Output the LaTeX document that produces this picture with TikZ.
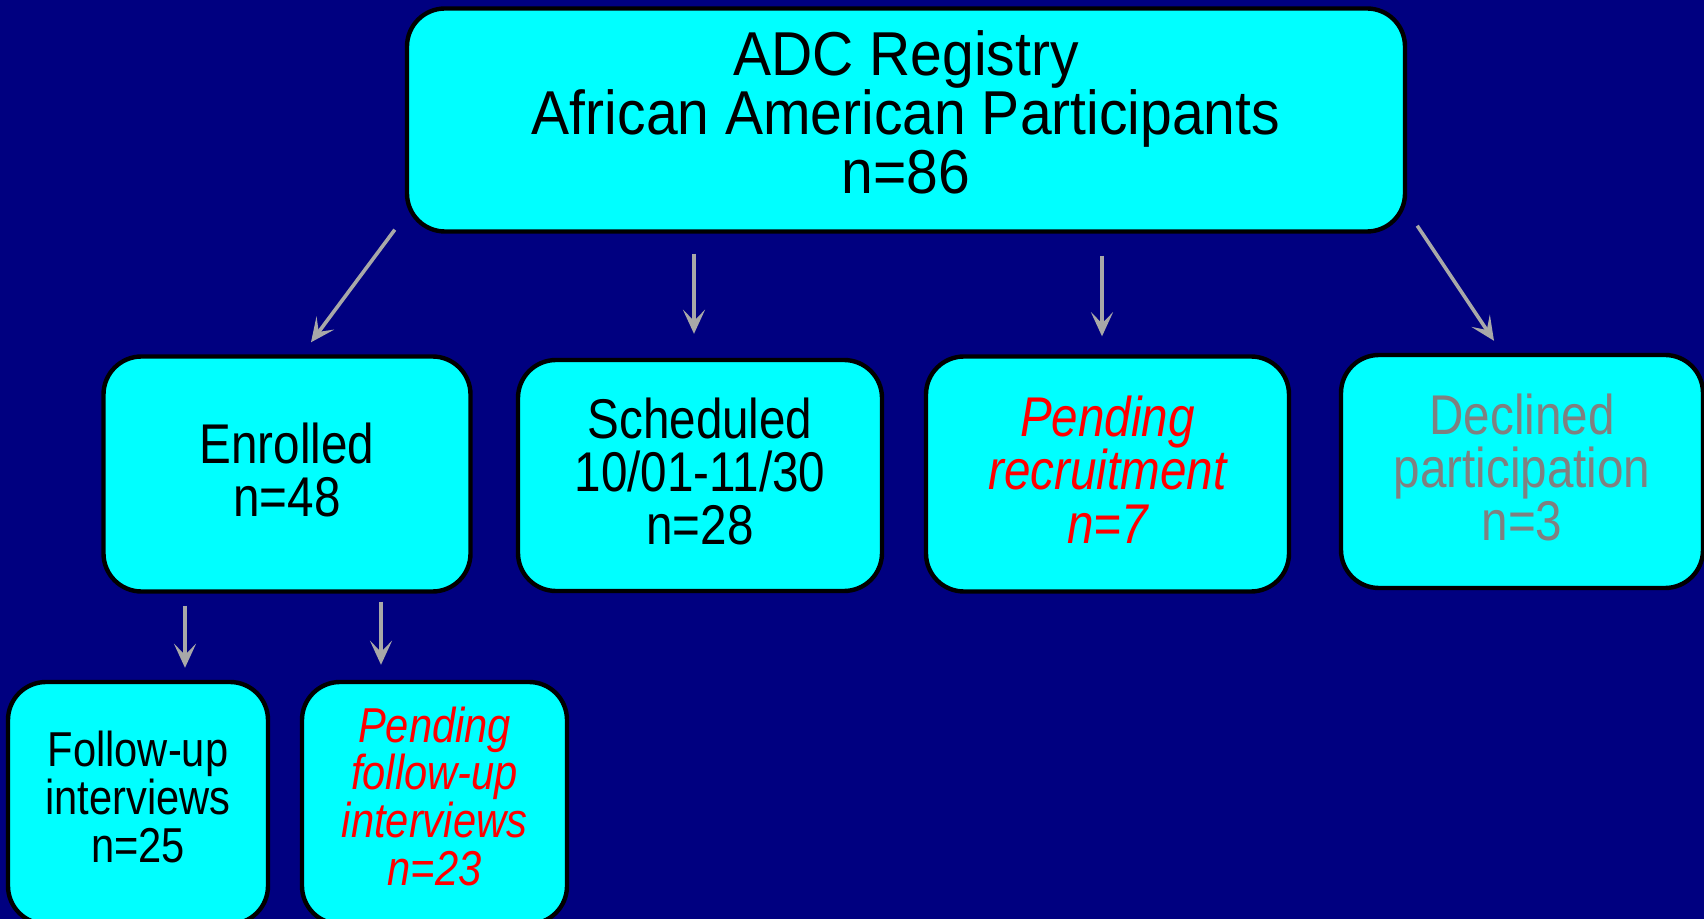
\documentclass[tikz,border=0pt]{standalone}
\usepackage{fontspec}
\setmainfont[FakeStretch=0.85]{Liberation Sans}
\newfontfamily\topfont[FakeStretch=0.92]{Liberation Sans}
\usepackage{tikz}
\usetikzlibrary{arrows.meta}
\definecolor{navybg}{RGB}{0,0,128}
\definecolor{boxcyan}{RGB}{0,255,255}
\definecolor{arrowgray}{RGB}{168,168,168}
\definecolor{declgray}{RGB}{128,128,128}
\tikzset{
  box/.style={draw=black,line width=2.2pt,fill=boxcyan,rounded corners=19pt,
    align=center,inner sep=0pt},
  arr/.style={draw=arrowgray,line width=1.8pt,
    -{Stealth[length=12pt,width=11pt,inset=5.5pt]}},
  bigtxt/.style={font=\topfont\fontsize{31}{29.5}\selectfont,text depth=7.6pt},
  midtxt/.style={font=\fontsize{28}{26.6}\selectfont,text depth=4.4pt},
  lowtxt/.style={font=\fontsize{24.5}{23.8}\selectfont,text depth=6.2pt},
  pendtxt/.style={text=red,font=\fontsize{28}{26.6}\selectfont\itshape,text depth=4.4pt},
}

\begin{document}
\begin{tikzpicture}[x=0.5pt,y=-0.5pt]
  \useasboundingbox[fill=navybg] (0,0) rectangle (1704,919);
  % top box
  \node[box,bigtxt,minimum width=499pt,minimum height=111.5pt] (reg) at (906,120)
    {ADC Registry\\African American Participants\\n=86};
  % second row
  \node[box,midtxt,minimum width=183.5pt,minimum height=117.5pt] (enr) at (287,474)
    {Enrolled\\n=48};
  \node[box,midtxt,minimum width=182pt,minimum height=115.5pt] (sched) at (700,475.5)
    {Scheduled\\10/01-11/30\\n=28};
  \node[box,pendtxt,minimum width=181.5pt,minimum height=117.5pt] (pend) at (1107.5,474)
    {Pending\\recruitment\\n=7};
  \node[box,midtxt,text=declgray,minimum width=181pt,minimum height=116.5pt] (decl) at (1522,471.5)
    {Declined\\participation\\n=3};
  % third row
  \node[box,lowtxt,minimum width=130pt,minimum height=121pt] (fu) at (138,803)
    {Follow-up\\interviews\\n=25};
  \node[box,lowtxt,text=red,font=\fontsize{24.5}{23.8}\selectfont\itshape,text depth=7pt,
    minimum width=132.5pt,minimum height=121pt] (pfu) at (434.5,803)
    {Pending\\follow-up\\interviews\\n=23};
  % arrows
  \draw[arr] ([xshift=-5pt,yshift=2pt]reg.south west) -- ([xshift=12pt,yshift=6pt]enr.north);
  \draw[arr,shorten <=10pt,shorten >=12pt] ([xshift=-3pt]reg.south -| sched.north) -- ([xshift=-3pt]sched.north);
  \draw[arr,shorten <=11pt,shorten >=9pt] ([xshift=-2.75pt]reg.south -| pend.north) -- ([xshift=-2.75pt]pend.north);
  \draw[arr] ([xshift=5pt,yshift=4pt]reg.south east) -- ([xshift=-14pt,yshift=6pt]decl.north);
  \draw[arr] ([xshift=-51pt,yshift=-6pt]enr.south) -- ([xshift=-51pt,yshift=6pt]enr.south |- fu.north);
  \draw[arr] ([xshift=47pt,yshift=-4pt]enr.south) -- ([xshift=47pt,yshift=7.5pt]enr.south |- pfu.north);
\end{tikzpicture}
\end{document}
